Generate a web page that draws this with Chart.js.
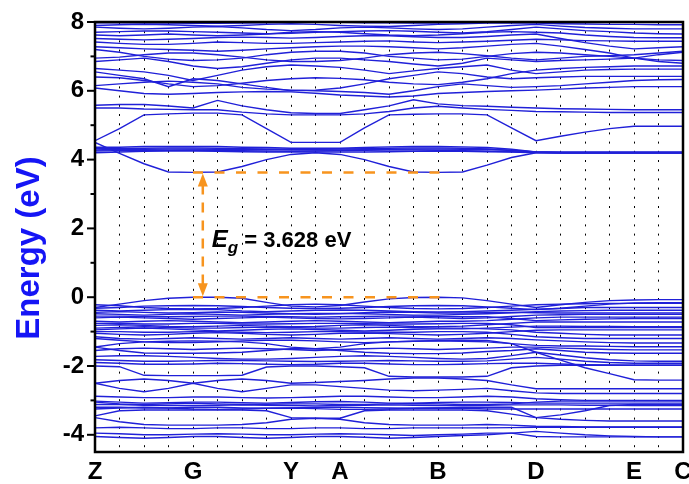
<!DOCTYPE html>
<html>
<head>
<meta charset="utf-8">
<script src="https://cdn.jsdelivr.net/npm/chart.js@4.4.1/dist/chart.umd.min.js"></script>
<style>
  html, body { margin: 0; padding: 0; background: #fff; }
  #wrap { width: 689px; height: 484px; }
</style>
</head>
<body>
<div id="wrap"><canvas id="chart"></canvas></div>
<script>
// k-path: 25 k-points, high symmetry points sit on these indices
const kCount = 25;
const symLabels = ['Z', 'G', 'Y', 'A', 'B', 'D', 'E', 'C'];
const symIndex = [0, 4, 8, 10, 14, 18, 22, 24];
const yTicks = [-4, -2, 0, 2, 4, 6, 8];

// band gap annotation
const gapValue = 3.628;
const vbmValue = 0;
const gapFrom = 4, gapTo = 14.3, arrowAt = 4.4;

// conduction bands (eV)
const cb1 = [4.5, 4.18, 3.88, 3.64, 3.628, 3.64, 3.8, 4.0, 4.15, 4.2, 4.15, 4.0, 3.8, 3.64, 3.628, 3.64, 3.84, 4.06, 4.2, 4.2, 4.2, 4.2, 4.2, 4.2, 4.2];
const cb2 = [4.36, 4.36, 4.38, 4.38, 4.38, 4.38, 4.36, 4.35, 4.33, 4.33, 4.33, 4.35, 4.37, 4.38, 4.38, 4.37, 4.35, 4.3, 4.22, 4.2, 4.2, 4.2, 4.2, 4.2, 4.2];
const cb3 = [4.28, 4.3, 4.3, 4.31, 4.31, 4.3, 4.3, 4.29, 4.28, 4.28, 4.28, 4.29, 4.3, 4.31, 4.31, 4.3, 4.3, 4.27, 4.22, 4.21, 4.21, 4.21, 4.21, 4.21, 4.21];
const cb4 = [4.2, 4.22, 4.24, 4.25, 4.25, 4.24, 4.23, 4.22, 4.22, 4.22, 4.22, 4.22, 4.23, 4.24, 4.25, 4.24, 4.23, 4.22, 4.2, 4.19, 4.19, 4.19, 4.19, 4.19, 4.19];
const cb5 = [4.55, 4.9, 5.3, 5.33, 5.35, 5.35, 5.3, 4.9, 4.5, 4.5, 4.5, 4.92, 5.3, 5.32, 5.33, 5.33, 5.3, 4.92, 4.55, 4.68, 4.8, 4.9, 4.97, 4.97, 4.97];
const cb6 = [5.58, 5.6, 5.6, 5.56, 5.5, 5.72, 5.56, 5.45, 5.36, 5.34, 5.34, 5.45, 5.56, 5.74, 5.62, 5.57, 5.55, 5.52, 5.5, 5.48, 5.47, 5.46, 5.45, 5.45, 5.45];
const cb7 = [5.5, 5.5, 5.47, 5.46, 5.45, 5.45, 5.38, 5.33, 5.3, 5.3, 5.3, 5.33, 5.4, 5.5, 5.55, 5.5, 5.46, 5.43, 5.4, 5.39, 5.38, 5.37, 5.37, 5.37, 5.37];
const cb8 = [6.08, 6.0, 5.92, 5.9, 5.92, 5.95, 5.97, 5.98, 5.97, 5.93, 5.88, 5.85, 5.82, 5.85, 5.92, 5.95, 5.98, 6.0, 6.02, 6.05, 6.08, 6.1, 6.12, 6.12, 6.12];
const cb9 = [6.15, 6.2, 6.25, 6.28, 6.25, 6.2, 6.1, 6.05, 6.02, 6.0, 5.98, 5.95, 5.9, 6.0, 6.12, 6.2, 6.15, 6.1, 6.12, 6.15, 6.2, 6.25, 6.3, 6.32, 6.33];
const cb10 = [6.55, 6.45, 6.35, 6.12, 6.35, 6.3, 6.2, 6.1, 6.0, 6.02, 6.08, 6.2, 6.35, 6.45, 6.55, 6.5, 6.4, 6.35, 6.38, 6.4, 6.42, 6.42, 6.42, 6.42, 6.42];
const cb11 = [6.65, 6.6, 6.55, 6.45, 6.3, 6.45, 6.6, 6.7, 6.75, 6.72, 6.68, 6.6, 6.5, 6.58, 6.65, 6.7, 6.75, 6.6, 6.5, 6.55, 6.6, 6.62, 6.63, 6.63, 6.63];
const cb12 = [6.85, 6.9, 6.95, 6.85, 6.72, 6.65, 6.7, 6.8, 6.9, 6.95, 6.95, 6.9, 6.85, 6.78, 6.72, 6.8, 6.95, 6.9, 6.85, 6.88, 6.9, 6.92, 6.95, 6.85, 6.8];
const cb13 = [7.2, 7.12, 7.0, 6.92, 6.88, 6.9, 6.95, 7.05, 7.12, 7.15, 7.15, 7.1, 7.0, 6.95, 6.9, 6.92, 7.0, 7.08, 7.12, 7.1, 7.05, 7.0, 6.95, 7.05, 7.12];
const cb14 = [7.42, 7.38, 7.35, 7.35, 7.38, 7.42, 7.4, 7.38, 7.38, 7.4, 7.42, 7.44, 7.45, 7.42, 7.4, 7.42, 7.44, 7.47, 7.5, 7.48, 7.46, 7.45, 7.44, 7.44, 7.44];
const cb15 = [7.52, 7.5, 7.48, 7.5, 7.52, 7.55, 7.56, 7.55, 7.53, 7.55, 7.58, 7.6, 7.6, 7.57, 7.55, 7.55, 7.58, 7.62, 7.65, 7.52, 7.4, 7.3, 7.22, 7.25, 7.28];
const cb16 = [7.7, 7.72, 7.74, 7.74, 7.72, 7.7, 7.68, 7.66, 7.67, 7.7, 7.72, 7.74, 7.75, 7.73, 7.7, 7.68, 7.72, 7.78, 7.85, 7.8, 7.75, 7.72, 7.68, 7.66, 7.65];
const cb17 = [7.85, 7.82, 7.8, 7.82, 7.85, 7.87, 7.83, 7.78, 7.75, 7.78, 7.83, 7.85, 7.83, 7.8, 7.78, 7.8, 7.85, 7.9, 7.93, 7.88, 7.84, 7.82, 7.8, 7.8, 7.8];
const cb18 = [7.9, 7.92, 7.93, 7.92, 7.9, 7.88, 7.9, 7.93, 7.95, 7.93, 7.9, 7.88, 7.87, 7.9, 7.93, 7.95, 7.97, 7.98, 7.97, 7.95, 7.94, 7.93, 7.93, 7.92, 7.92];
const cb19 = [7.98, 7.98, 7.97, 7.97, 7.96, 7.96, 7.97, 7.98, 7.99, 7.99, 7.99, 7.98, 7.98, 7.97, 7.97, 7.98, 7.99, 8.0, 8.0, 8.0, 8.0, 8.0, 7.99, 7.99, 7.99];
const cb20 = [7.62, 7.6, 7.62, 7.65, 7.62, 7.6, 7.62, 7.65, 7.7, 7.72, 7.7, 7.66, 7.62, 7.6, 7.62, 7.66, 7.7, 7.72, 7.7, 7.68, 7.62, 7.58, 7.55, 7.54, 7.54];
const cb21 = [7.28, 7.25, 7.22, 7.2, 7.18, 7.15, 7.18, 7.22, 7.25, 7.28, 7.3, 7.3, 7.28, 7.25, 7.22, 7.25, 7.3, 7.35, 7.38, 7.3, 7.2, 7.1, 6.95, 6.9, 6.88];
const cb22 = [6.95, 6.98, 7.05, 7.1, 7.1, 7.05, 6.98, 6.9, 6.85, 6.85, 6.88, 6.95, 7.05, 7.1, 7.12, 7.08, 7.02, 6.95, 6.9, 6.95, 7.0, 7.02, 7.05, 7.1, 7.15];
const cb23 = [6.4, 6.38, 6.3, 6.2, 6.12, 6.15, 6.22, 6.3, 6.35, 6.38, 6.36, 6.32, 6.25, 6.2, 6.18, 6.25, 6.35, 6.5, 6.6, 6.65, 6.68, 6.7, 6.72, 6.72, 6.72];
const cb24 = [4.32, 4.32, 4.33, 4.34, 4.34, 4.33, 4.32, 4.31, 4.3, 4.3, 4.31, 4.32, 4.33, 4.34, 4.34, 4.33, 4.31, 4.26, 4.22, 4.22, 4.22, 4.22, 4.22, 4.22, 4.22];
const cb25 = [4.25, 4.26, 4.27, 4.27, 4.28, 4.27, 4.26, 4.25, 4.24, 4.25, 4.26, 4.27, 4.28, 4.28, 4.27, 4.26, 4.25, 4.23, 4.21, 4.2, 4.2, 4.2, 4.2, 4.2, 4.2];

// valence bands (eV)
const vb1 = [-0.3, -0.2, -0.1, -0.03, 0, 0, -0.03, -0.15, -0.26, -0.28, -0.24, -0.14, -0.05, -0.01, 0, -0.02, -0.1, -0.2, -0.3, -0.22, -0.15, -0.1, -0.08, -0.07, -0.07];
const vb2 = [-0.32, -0.3, -0.26, -0.25, -0.24, -0.25, -0.27, -0.3, -0.32, -0.33, -0.32, -0.3, -0.27, -0.25, -0.24, -0.25, -0.28, -0.32, -0.36, -0.32, -0.26, -0.2, -0.17, -0.16, -0.16];
const vb3 = [-0.38, -0.4, -0.38, -0.36, -0.35, -0.36, -0.4, -0.42, -0.4, -0.38, -0.37, -0.38, -0.4, -0.42, -0.43, -0.42, -0.4, -0.38, -0.35, -0.33, -0.3, -0.3, -0.3, -0.3, -0.3];
const vb4 = [-0.48, -0.5, -0.52, -0.5, -0.48, -0.5, -0.52, -0.5, -0.48, -0.47, -0.47, -0.48, -0.5, -0.52, -0.52, -0.5, -0.48, -0.45, -0.42, -0.4, -0.39, -0.38, -0.38, -0.38, -0.38];
const vb5 = [-0.6, -0.58, -0.6, -0.62, -0.64, -0.62, -0.6, -0.58, -0.6, -0.62, -0.63, -0.62, -0.6, -0.58, -0.6, -0.62, -0.6, -0.56, -0.52, -0.51, -0.5, -0.5, -0.5, -0.5, -0.5];
const vb6 = [-0.7, -0.72, -0.7, -0.68, -0.7, -0.72, -0.74, -0.72, -0.7, -0.68, -0.7, -0.72, -0.74, -0.72, -0.7, -0.7, -0.68, -0.64, -0.6, -0.58, -0.58, -0.58, -0.58, -0.58, -0.58];
const vb7 = [-0.82, -0.8, -0.82, -0.85, -0.86, -0.84, -0.82, -0.84, -0.86, -0.85, -0.82, -0.8, -0.82, -0.85, -0.86, -0.84, -0.8, -0.76, -0.72, -0.72, -0.72, -0.72, -0.72, -0.72, -0.72];
const vb8 = [-0.95, -0.92, -0.9, -0.92, -0.95, -0.98, -0.96, -0.93, -0.92, -0.94, -0.96, -0.98, -0.96, -0.93, -0.92, -0.92, -0.9, -0.87, -0.84, -0.84, -0.85, -0.85, -0.86, -0.86, -0.86];
const vb9 = [-1.05, -1.08, -1.1, -1.08, -1.05, -1.03, -1.05, -1.08, -1.1, -1.08, -1.05, -1.04, -1.06, -1.08, -1.1, -1.08, -1.05, -1.0, -0.96, -0.95, -0.95, -0.95, -0.95, -0.95, -0.95];
const vb10 = [-1.15, -1.2, -1.22, -1.2, -1.18, -1.2, -1.22, -1.2, -1.18, -1.2, -1.22, -1.2, -1.18, -1.2, -1.22, -1.2, -1.18, -1.2, -1.24, -1.27, -1.3, -1.32, -1.33, -1.33, -1.33];
const vb11 = [-1.2, -1.25, -1.3, -1.32, -1.32, -1.3, -1.27, -1.25, -1.25, -1.27, -1.3, -1.32, -1.3, -1.28, -1.26, -1.25, -1.26, -1.35, -1.6, -1.83, -2.05, -2.22, -2.4, -2.41, -2.41];
const vb12 = [-1.45, -1.35, -1.3, -1.28, -1.27, -1.28, -1.3, -1.35, -1.45, -1.5, -1.45, -1.35, -1.3, -1.28, -1.27, -1.28, -1.3, -1.35, -1.4, -1.42, -1.42, -1.43, -1.44, -1.44, -1.44];
const vb13 = [-1.45, -1.55, -1.62, -1.63, -1.63, -1.62, -1.6, -1.55, -1.5, -1.5, -1.55, -1.6, -1.63, -1.64, -1.64, -1.62, -1.58, -1.55, -1.5, -1.55, -1.6, -1.62, -1.63, -1.63, -1.63];
const vb14 = [-1.72, -1.7, -1.7, -1.72, -1.75, -1.78, -1.8, -1.8, -1.78, -1.75, -1.72, -1.7, -1.72, -1.75, -1.78, -1.8, -1.78, -1.7, -1.6, -1.68, -1.76, -1.82, -1.85, -1.86, -1.86];
const vb15 = [-1.82, -1.84, -1.86, -1.86, -1.85, -1.84, -1.84, -1.85, -1.86, -1.87, -1.86, -1.85, -1.84, -1.85, -1.86, -1.86, -1.85, -1.8, -1.75, -1.8, -1.86, -1.9, -1.92, -1.92, -1.92];
const vb16 = [-2.0, -2.02, -2.27, -2.28, -2.28, -2.28, -2.27, -2.03, -2.0, -2.0, -2.02, -2.05, -2.3, -2.32, -2.32, -2.32, -2.3, -2.05, -2.0, -1.98, -1.98, -1.98, -1.98, -1.98, -1.98];
const vb17 = [-2.5, -2.42, -2.38, -2.42, -2.5, -2.42, -2.38, -2.42, -2.5, -2.48, -2.45, -2.42, -2.38, -2.35, -2.35, -2.38, -2.42, -2.55, -2.66, -2.66, -2.66, -2.66, -2.66, -2.66, -2.66];
const vb18 = [-2.5, -2.65, -2.75, -2.65, -2.5, -2.65, -2.75, -2.65, -2.55, -2.55, -2.6, -2.65, -2.7, -2.72, -2.7, -2.68, -2.65, -2.72, -2.78, -2.8, -2.8, -2.8, -2.8, -2.8, -2.8];
const vb19 = [-2.88, -2.9, -2.92, -2.92, -2.9, -2.9, -2.92, -2.93, -2.92, -2.9, -2.88, -2.88, -2.9, -2.92, -2.92, -2.9, -2.88, -2.9, -2.95, -2.98, -3.0, -3.0, -3.0, -3.0, -3.0];
const vb20 = [-3.02, -3.05, -3.08, -3.07, -3.05, -3.05, -3.07, -3.08, -3.06, -3.04, -3.03, -3.05, -3.08, -3.08, -3.06, -3.05, -3.05, -3.06, -3.08, -3.08, -3.08, -3.08, -3.08, -3.08, -3.08];
const vb21 = [-3.12, -3.12, -3.14, -3.15, -3.15, -3.14, -3.13, -3.14, -3.15, -3.16, -3.15, -3.14, -3.13, -3.14, -3.15, -3.15, -3.14, -3.13, -3.13, -3.13, -3.14, -3.14, -3.15, -3.15, -3.15];
const vb22 = [-3.2, -3.2, -3.22, -3.22, -3.2, -3.2, -3.22, -3.23, -3.22, -3.2, -3.2, -3.21, -3.22, -3.23, -3.22, -3.2, -3.2, -3.2, -3.5, -3.42, -3.3, -3.15, -3.12, -3.12, -3.12];
const vb23 = [-3.45, -3.3, -3.28, -3.28, -3.28, -3.28, -3.28, -3.3, -3.5, -3.52, -3.52, -3.3, -3.28, -3.28, -3.28, -3.28, -3.3, -3.4, -3.5, -3.55, -3.58, -3.6, -3.6, -3.6, -3.6];
const vb24 = [-3.5, -3.62, -3.7, -3.72, -3.72, -3.72, -3.7, -3.65, -3.55, -3.52, -3.55, -3.65, -3.7, -3.72, -3.72, -3.72, -3.7, -3.72, -3.75, -3.76, -3.77, -3.77, -3.77, -3.77, -3.77];
const vb25 = [-3.8, -3.78, -3.8, -3.82, -3.82, -3.8, -3.8, -3.82, -3.82, -3.8, -3.8, -3.82, -3.82, -3.8, -3.8, -3.8, -3.8, -3.79, -3.78, -3.78, -3.78, -3.78, -3.78, -3.78, -3.78];
const vb26 = [-3.95, -3.97, -4.0, -4.0, -3.98, -3.97, -3.98, -4.0, -4.0, -3.98, -3.97, -3.98, -4.0, -4.02, -4.0, -3.98, -3.95, -3.95, -4.05, -4.06, -4.06, -4.06, -4.06, -4.06, -4.06];
const vb27 = [-4.05, -4.08, -4.1, -4.08, -4.05, -4.05, -4.08, -4.1, -4.08, -4.05, -4.05, -4.07, -4.1, -4.08, -4.05, -4.02, -4.0, -3.95, -3.9, -3.95, -4.0, -4.03, -4.05, -4.06, -4.06];
const vb28 = [-0.22, -0.25, -0.3, -0.33, -0.34, -0.33, -0.3, -0.26, -0.22, -0.2, -0.22, -0.26, -0.3, -0.33, -0.34, -0.33, -0.3, -0.26, -0.22, -0.2, -0.19, -0.18, -0.18, -0.18, -0.18];
const vb29 = [-0.44, -0.42, -0.44, -0.46, -0.45, -0.43, -0.44, -0.46, -0.48, -0.5, -0.48, -0.45, -0.43, -0.44, -0.46, -0.46, -0.45, -0.44, -0.45, -0.46, -0.46, -0.46, -0.46, -0.46, -0.46];
const vb30 = [-0.55, -0.55, -0.56, -0.57, -0.56, -0.55, -0.55, -0.56, -0.57, -0.58, -0.57, -0.56, -0.55, -0.55, -0.56, -0.57, -0.57, -0.62, -0.68, -0.66, -0.64, -0.63, -0.62, -0.62, -0.62];
const vb31 = [-0.76, -0.76, -0.78, -0.78, -0.76, -0.76, -0.78, -0.78, -0.77, -0.76, -0.76, -0.77, -0.78, -0.78, -0.77, -0.76, -0.76, -0.8, -0.88, -0.88, -0.88, -0.88, -0.88, -0.88, -0.88];
const vb32 = [-0.9, -0.88, -0.86, -0.88, -0.9, -0.9, -0.88, -0.87, -0.88, -0.9, -0.9, -0.88, -0.87, -0.88, -0.9, -0.9, -0.92, -0.95, -1.02, -1.05, -1.08, -1.1, -1.1, -1.1, -1.1];
const vb33 = [-1.0, -1.0, -1.02, -1.02, -1.0, -1.0, -1.02, -1.03, -1.02, -1.0, -1.0, -1.01, -1.02, -1.02, -1.0, -1.0, -1.02, -1.08, -1.15, -1.18, -1.2, -1.2, -1.2, -1.2, -1.2];
const vb34 = [-1.55, -1.5, -1.48, -1.5, -1.52, -1.5, -1.48, -1.5, -1.52, -1.55, -1.52, -1.5, -1.48, -1.5, -1.52, -1.5, -1.48, -1.45, -1.45, -1.48, -1.5, -1.52, -1.53, -1.53, -1.53];
const vb35 = [-1.9, -1.92, -1.95, -1.95, -1.94, -1.92, -1.93, -1.95, -1.96, -1.95, -1.92, -1.92, -1.94, -1.96, -1.96, -1.95, -1.93, -1.92, -1.92, -1.94, -1.96, -1.97, -1.98, -1.98, -1.98];
const vb36 = [-3.25, -3.22, -3.2, -3.22, -3.25, -3.26, -3.25, -3.23, -3.22, -3.24, -3.26, -3.26, -3.25, -3.23, -3.22, -3.23, -3.25, -3.25, -3.25, -3.25, -3.25, -3.25, -3.25, -3.25, -3.25];
const vb37 = [-3.05, -3.1, -3.12, -3.1, -3.08, -3.1, -3.12, -3.11, -3.1, -3.1, -3.12, -3.12, -3.1, -3.09, -3.1, -3.12, -3.12, -3.1, -3.05, -3.02, -3.02, -3.02, -3.02, -3.02, -3.02];

const bands = [cb1, cb2, cb3, cb4, cb5, cb6, cb7, cb8, cb9, cb10, cb11, cb12, cb13, cb14, cb15, cb16, cb17, cb18, cb19,
  cb20, cb21, cb22, cb23, cb24, cb25,
  vb1, vb2, vb3, vb4, vb5, vb6, vb7, vb8, vb9, vb10, vb11, vb12, vb13, vb14, vb15, vb16, vb17, vb18, vb19, vb20,
  vb21, vb22, vb23, vb24, vb25, vb26, vb27, vb28, vb29, vb30, vb31, vb32, vb33, vb34, vb35, vb36, vb37];

const blue = '#2020d8';
const orange = '#f7941e';
const font = '"Liberation Sans", Arial, sans-serif';

// frame, y ticks, axis title and the gap annotation
const bandPlot = {
  id: 'bandPlot',
  afterDraw(chart) {
    const { ctx, chartArea: a, scales: { x, y } } = chart;
    ctx.save();

    // gap dashed lines
    ctx.strokeStyle = orange;
    ctx.lineWidth = 2.5;
    ctx.setLineDash([10, 11.5]);
    [gapValue, vbmValue].forEach(v => {
      const py = y.getPixelForValue(v);
      ctx.beginPath();
      ctx.moveTo(x.getPixelForValue(gapFrom), py);
      ctx.lineTo(x.getPixelForValue(gapTo), py);
      ctx.stroke();
    });
    const ax = x.getPixelForValue(arrowAt), top = y.getPixelForValue(gapValue), bot = y.getPixelForValue(vbmValue);
    ctx.setLineDash([10, 8]);
    ctx.beginPath(); ctx.moveTo(ax, top + 12); ctx.lineTo(ax, bot - 12); ctx.stroke();
    ctx.setLineDash([]);
    ctx.fillStyle = orange;
    ctx.beginPath(); ctx.moveTo(ax, top + 1); ctx.lineTo(ax - 5, top + 14); ctx.lineTo(ax + 5, top + 14); ctx.closePath(); ctx.fill();
    ctx.beginPath(); ctx.moveTo(ax, bot - 1); ctx.lineTo(ax - 5, bot - 14); ctx.lineTo(ax + 5, bot - 14); ctx.closePath(); ctx.fill();

    // E_g label
    const tx = ax + 9, ty = (top + bot) / 2 + 12;
    ctx.fillStyle = '#000';
    ctx.textBaseline = 'alphabetic';
    ctx.textAlign = 'left';
    ctx.font = 'italic bold 24px ' + font;
    ctx.fillText('E', tx, ty);
    const ew = ctx.measureText('E').width;
    ctx.font = 'italic bold 17px ' + font;
    ctx.fillText('g', tx + ew, ty + 6);
    const gw = ctx.measureText('g').width;
    ctx.font = 'bold 22px ' + font;
    ctx.fillText(' = ' + gapValue.toFixed(3) + ' eV', tx + ew + gw, ty);

    // frame
    ctx.strokeStyle = '#000';
    ctx.lineWidth = 2.5;
    ctx.strokeRect(a.left, a.top, a.right - a.left, a.bottom - a.top);

    // y ticks: major on labelled values, minor halfway
    ctx.lineWidth = 2;
    yTicks.forEach(v => {
      const py = y.getPixelForValue(v);
      ctx.beginPath(); ctx.moveTo(a.left - 8, py); ctx.lineTo(a.left, py); ctx.stroke();
      if (v < 8) {
        const pm = y.getPixelForValue(v + 1);
        ctx.beginPath(); ctx.moveTo(a.left - 4.5, pm); ctx.lineTo(a.left, pm); ctx.stroke();
      }
    });

    // y title
    ctx.translate(30, (a.top + a.bottom) / 2 + 11);
    ctx.rotate(-Math.PI / 2);
    ctx.fillStyle = '#1515f5';
    ctx.font = 'bold 33px ' + font;
    ctx.textAlign = 'center';
    ctx.textBaseline = 'middle';
    ctx.fillText('Energy (eV)', 0, 0);
    ctx.restore();
  }
};

new Chart(document.getElementById('chart'), {
  type: 'line',
  data: {
    datasets: bands.map(b => ({
      data: b.map((v, i) => ({ x: i, y: v })),
      borderColor: blue,
      borderWidth: 1.4,
      pointRadius: 0,
      tension: 0,
      fill: false
    }))
  },
  options: {
    responsive: true,
    maintainAspectRatio: false,
    devicePixelRatio: 1,
    animation: false,
    events: [],
    layout: { padding: { top: 22, right: 6, left: 0, bottom: 0 } },
    plugins: { legend: { display: false }, tooltip: { enabled: false } },
    scales: {
      x: {
        type: 'linear',
        min: 0,
        max: kCount - 1,
        afterBuildTicks: s => { s.ticks = Array.from({ length: kCount }, (_, i) => ({ value: i })); },
        afterFit: s => { s.height = 32; s.paddingLeft = 0; s.paddingRight = 0; },
        ticks: {
          autoSkip: false,
          maxRotation: 0,
          padding: 6,
          color: '#000',
          font: { family: font, size: 24, weight: 'bold' },
          callback: v => { const j = symIndex.indexOf(v); return j >= 0 ? symLabels[j] : ''; }
        },
        grid: { color: '#000', lineWidth: 1, drawTicks: false },
        border: { display: false, dash: [2, 7.2] }
      },
      y: {
        min: -4.5,
        max: 8,
        afterBuildTicks: s => { s.ticks = yTicks.map(v => ({ value: v })); },
        afterFit: s => { s.width = 95; s.paddingTop = 0; s.paddingBottom = 0; },
        ticks: {
          padding: 11,
          color: '#000',
          font: { family: font, size: 24, weight: 'bold' }
        },
        grid: { display: false, drawTicks: false },
        border: { display: false }
      }
    }
  },
  plugins: [bandPlot]
});
</script>
</body>
</html>
